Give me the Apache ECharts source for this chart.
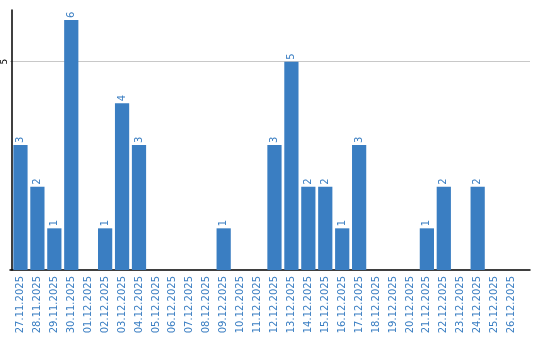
<!DOCTYPE html>
<html>
<head>
<meta charset="utf-8">
<script src="https://cdn.jsdelivr.net/npm/echarts@6/dist/echarts.min.js"></script>
<style>html,body{margin:0;padding:0;background:#fff;}#c{width:540px;height:340px;}</style>
</head>
<body>
<div id="c"></div>
<script>
const categories = ['27.11.2025','28.11.2025','29.11.2025','30.11.2025','01.12.2025','02.12.2025','03.12.2025','04.12.2025','05.12.2025','06.12.2025','07.12.2025','08.12.2025','09.12.2025','10.12.2025','11.12.2025','12.12.2025','13.12.2025','14.12.2025','15.12.2025','16.12.2025','17.12.2025','18.12.2025','19.12.2025','20.12.2025','21.12.2025','22.12.2025','23.12.2025','24.12.2025','25.12.2025','26.12.2025'];
const values = [3,2,1,6,0,1,4,3,0,0,0,0,1,0,0,3,5,2,2,1,3,0,0,0,1,2,0,2,0,0];
const yTicks = [5];
const yMax = 6.24;

const blue = '#3a7ec2';
const chart = echarts.init(document.getElementById('c'));
chart.setOption({
  animation: false,
  grid: [
    {left: 10, top: 10, width: 510, bottom: 70},
    {left: 10, top: 10, right: 10, bottom: 70}
  ],
  xAxis: [
    {
      type: 'category', gridIndex: 0, data: categories,
      axisLine: {show: false}, axisTick: {show: false},
      axisLabel: {rotate: 90, interval: 0, color: blue, fontFamily: 'DejaVu Sans', fontSize: 10, margin: 6}
    },
    {
      type: 'value', gridIndex: 1, min: 0, max: 1,
      axisLine: {show: true, lineStyle: {color: '#000', width: 1.5}},
      axisTick: {show: false}, axisLabel: {show: false}, splitLine: {show: false}
    }
  ],
  yAxis: [
    {
      type: 'value', gridIndex: 0, min: 0, max: yMax, interval: 5,
      axisLine: {show: true, lineStyle: {color: '#000', width: 1.5}},
      axisTick: {show: false},
      axisLabel: {rotate: 90, color: '#000', fontFamily: 'DejaVu Sans', fontSize: 9, margin: 3,
        formatter: v => yTicks.indexOf(v) >= 0 ? String(v) : ''},
      splitLine: {show: false}
    },
    {
      type: 'value', gridIndex: 1, min: 0, max: yMax, interval: 5,
      axisLine: {show: false}, axisTick: {show: false}, axisLabel: {show: false},
      splitLine: {show: true, showMinLine: false, showMaxLine: false, lineStyle: {color: '#c8c8c8', width: 1}}
    }
  ],
  series: [{
    type: 'bar', xAxisIndex: 0, yAxisIndex: 0, data: values,
    barCategoryGap: '16%',
    itemStyle: {color: blue},
    z: 3,
    label: {
      show: true, position: 'top', rotate: 90, align: 'left', verticalAlign: 'middle', distance: 2,
      color: blue, fontFamily: 'DejaVu Sans', fontSize: 10,
      formatter: p => p.value > 0 ? String(p.value) : ''
    }
  }]
});
</script>
</body>
</html>
